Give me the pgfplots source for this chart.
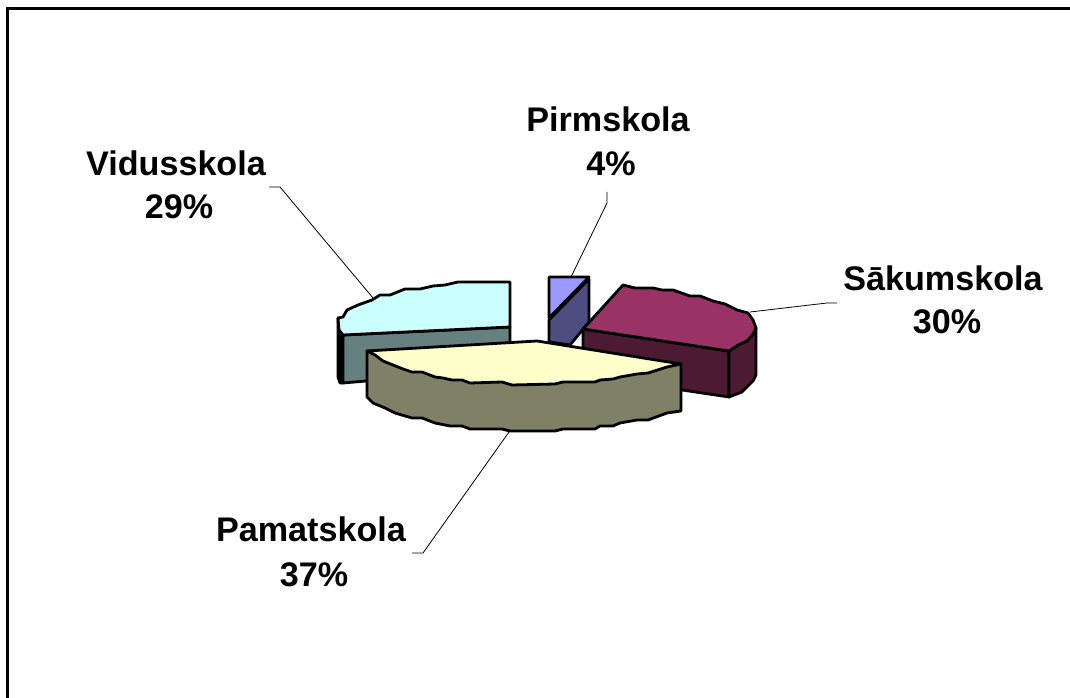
\documentclass[border=0pt]{standalone}
\usepackage{fontspec}
\setmainfont{Liberation Sans}
\usepackage{pgfplots}
\pgfplotsset{compat=1.18}
\definecolor{cyantop}{HTML}{CCFFFF}
\definecolor{cyanside}{HTML}{668080}
\definecolor{bluetop}{HTML}{9999FF}
\definecolor{blueside}{HTML}{4D4D80}
\definecolor{redtop}{HTML}{993366}
\definecolor{redside}{HTML}{4D1A33}
\definecolor{yeltop}{HTML}{FFFFCC}
\definecolor{yelside}{HTML}{808066}
\tikzset{
  slice/.style={draw=black, line width=2.1pt, line join=round},
  leader/.style={black, line width=0.6pt},
  lab/.style={font=\bfseries\fontsize{25.6}{30}\selectfont, text=black, inner sep=0pt, anchor=base}}
\begin{document}
\begin{tikzpicture}
\useasboundingbox (0,0) rectangle (802.5pt,523.5pt);
\begin{axis}[
  at={(0,0)}, anchor=south west,
  width=802.5pt, height=523.5pt, scale only axis,
  xmin=0, xmax=1070, ymin=0, ymax=698, y dir=reverse,
  hide axis, clip=true]
% frame, cut off at the right and bottom
\addplot[black, line width=2.25pt] coordinates {(7.5,698) (7.5,8.5) (1070,8.5)};
% leader lines
\addplot[leader] coordinates {(571,277) (607,203) (607,192)};
\addplot[leader] coordinates {(373,298) (280,187) (269,187)};
\addplot[leader] coordinates {(750,312) (827,303) (837,303)};
\addplot[leader] coordinates {(509,432) (423,553) (412,553)};
% Vidusskola
\addplot[fill=black, slice] coordinates {(338,318) (343,335) (343,383) (340,383) (338,377)} -- cycle;
\addplot[fill=cyanside, slice] coordinates {(343,335) (510,327) (510,360) (366,381) (343,383)} -- cycle;
\addplot[fill=cyantop, slice] coordinates {(510,282) (458,282) (445,285) (433,286) (420,289) (405,289) (390,295) (380,295) (372,300) (358,305) (347,310) (343,317) (338,318) (339,330) (343,335) (510,327)} -- cycle;
% Pirmskola
\addplot[fill=blueside, slice] coordinates {(549,320) (589,279) (589,322) (570,345) (549,342)} -- cycle;
\addplot[fill=bluetop, slice] coordinates {(549,277) (589,277) (549,318)} -- cycle;
% Sakumskola
\addplot[fill=redside, slice] coordinates {(583,329) (729,351) (729,397) (682,390) (583,366)} -- cycle;
\addplot[fill=redside, slice] coordinates {(729,351) (738,345) (747,341) (753,334) (756,328) (756,375) (753,381) (742,392) (729,397)} -- cycle;
\addplot[fill=redtop, slice] coordinates {(583,329) (623,285) (635,288) (653,288) (662,290) (673,290) (690,296) (700,296) (713,301) (725,304) (737,310) (748,313) (753,320) (756,328) (753,334) (747,341) (738,345) (729,351)} -- cycle;
% Pamatskola
\addplot[fill=yelside, slice] coordinates {(367,351) (681,364) (681,411) (667,413) (648,420) (637,420) (620,423) (613,426) (600,426) (595,429) (563,429) (555,431) (510,431) (502,429) (470,429) (462,426) (450,426) (435,423) (422,418) (412,418) (395,413) (385,408) (373,403) (367,397)} -- cycle;
\addplot[fill=yeltop, slice] coordinates {(367,351) (537,341) (681,364) (667,367) (648,373) (637,374) (620,377) (613,379) (600,380) (595,382) (563,382) (555,384) (512,385) (502,382) (470,383) (462,380) (452,380) (443,378) (435,377) (422,372) (412,372) (403,369) (393,365) (383,361) (375,355)} -- cycle;
% labels
\node[lab] at (axis cs:608,132) {Pirmskola};
\node[lab] at (axis cs:611,176) {4\%};
\node[lab] at (axis cs:176,176) {Vidusskola};
\node[lab] at (axis cs:179,219) {29\%};
\node[lab] at (axis cs:943,291) {Sākumskola};
\node[lab] at (axis cs:947,334) {30\%};
\node[lab] at (axis cs:311,541) {Pamatskola};
\node[lab] at (axis cs:314,586) {37\%};
\end{axis}
\end{tikzpicture}
\end{document}
